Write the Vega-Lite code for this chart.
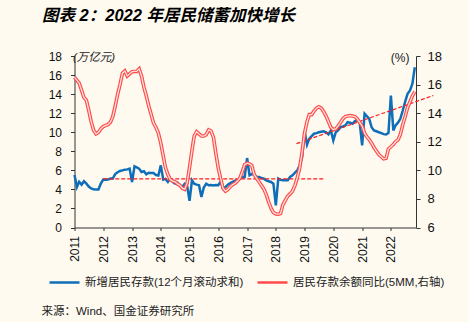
{
  "$schema": "https://vega.github.io/schema/vega-lite/v6.json",
  "width": 341.5,
  "height": 171.5,
  "autosize": {"type": "none"},
  "padding": {"left": 74.5, "top": 56, "right": 53, "bottom": 94.5},
  "background": "#fefaf0",
  "title": {
    "text": "图表 2：2022 年居民储蓄加快增长",
    "anchor": "start",
    "frame": "group",
    "dx": -32.5,
    "offset": 26,
    "font": "Liberation Sans, Noto Sans CJK SC",
    "fontSize": 16.5,
    "fontWeight": "bold",
    "fontStyle": "italic",
    "color": "#000000"
  },
  "config": {
    "view": {"stroke": null},
    "axis": {
      "grid": false,
      "domain": true,
      "ticks": true,
      "labels": true,
      "domainColor": "#333333",
      "domainWidth": 1,
      "tickColor": "#333333",
      "tickWidth": 1,
      "labelColor": "#111111",
      "labelFont": "Liberation Sans",
      "titleFont": "Liberation Sans, Noto Sans CJK SC",
      "titleColor": "#222222",
      "titleFontWeight": "normal"
    },
    "legend": {
      "labelFont": "Liberation Sans, Noto Sans CJK SC",
      "labelFontSize": 11.5,
      "labelColor": "#222222"
    }
  },
  "datasets": {
    "m": [
      {"d":"2011-01-01","b":5.5,"r":16.5},{"d":"2011-02-01","b":4.25,"r":16.3},{"d":"2011-03-01","b":4.8,"r":16.1},{"d":"2011-04-01","b":4.5,"r":15.6},{"d":"2011-05-01","b":4.85,"r":15.1},{"d":"2011-06-01","b":4.6,"r":14.9},{"d":"2011-07-01","b":4.3,"r":14.2},{"d":"2011-08-01","b":4.1,"r":13.4},{"d":"2011-09-01","b":4.0,"r":12.8},{"d":"2011-10-01","b":3.98,"r":12.55},{"d":"2011-11-01","b":3.98,"r":12.65},{"d":"2011-12-01","b":4.6,"r":12.9},
      {"d":"2012-01-01","b":5.03,"r":13.06},{"d":"2012-02-01","b":5.0,"r":13.15},{"d":"2012-03-01","b":5.03,"r":13.2},{"d":"2012-04-01","b":5.13,"r":13.37},{"d":"2012-05-01","b":5.13,"r":13.75},{"d":"2012-06-01","b":5.6,"r":14.5},{"d":"2012-07-01","b":5.8,"r":15.3},{"d":"2012-08-01","b":5.93,"r":16.0},{"d":"2012-09-01","b":6.0,"r":16.8},{"d":"2012-10-01","b":6.07,"r":16.95},{"d":"2012-11-01","b":6.1,"r":16.6},{"d":"2012-12-01","b":6.18,"r":16.75},
      {"d":"2013-01-01","b":4.78,"r":16.9},{"d":"2013-02-01","b":6.42,"r":16.92},{"d":"2013-03-01","b":6.3,"r":16.92},{"d":"2013-04-01","b":6.18,"r":17.1},{"d":"2013-05-01","b":5.82,"r":16.6},{"d":"2013-06-01","b":5.9,"r":15.8},{"d":"2013-07-01","b":5.58,"r":15.2},{"d":"2013-08-01","b":5.75,"r":14.5},{"d":"2013-09-01","b":5.72,"r":13.9},{"d":"2013-10-01","b":5.72,"r":13.3},{"d":"2013-11-01","b":5.5,"r":13.0},{"d":"2013-12-01","b":5.45,"r":12.6},
      {"d":"2014-01-01","b":6.52,"r":11.9},{"d":"2014-02-01","b":5.03,"r":11.0},{"d":"2014-03-01","b":5.1,"r":10.2},{"d":"2014-04-01","b":4.78,"r":9.7},{"d":"2014-05-01","b":5.13,"r":9.35},{"d":"2014-06-01","b":4.8,"r":9.25},{"d":"2014-07-01","b":4.6,"r":9.2},{"d":"2014-08-01","b":4.7,"r":9.05},{"d":"2014-09-01","b":4.43,"r":8.95},{"d":"2014-10-01","b":4.25,"r":8.75},{"d":"2014-11-01","b":4.6,"r":8.67},{"d":"2014-12-01","b":4.4,"r":9.1},
      {"d":"2015-01-01","b":2.79,"r":10.2},{"d":"2015-02-01","b":4.95,"r":11.4},{"d":"2015-03-01","b":4.6,"r":12.4},{"d":"2015-04-01","b":4.5,"r":12.7},{"d":"2015-05-01","b":4.43,"r":12.55},{"d":"2015-06-01","b":3.2,"r":12.4},{"d":"2015-07-01","b":4.2,"r":12.4},{"d":"2015-08-01","b":4.6,"r":12.5},{"d":"2015-09-01","b":4.43,"r":12.83},{"d":"2015-10-01","b":4.45,"r":12.75},{"d":"2015-11-01","b":4.4,"r":12.3},{"d":"2015-12-01","b":4.45,"r":11.2},
      {"d":"2016-01-01","b":4.43,"r":10.15},{"d":"2016-02-01","b":4.85,"r":9.4},{"d":"2016-03-01","b":4.08,"r":8.75},{"d":"2016-04-01","b":4.25,"r":8.55},{"d":"2016-05-01","b":4.5,"r":8.65},{"d":"2016-06-01","b":4.65,"r":8.85},{"d":"2016-07-01","b":4.78,"r":9.0},{"d":"2016-08-01","b":4.9,"r":9.1},{"d":"2016-09-01","b":4.95,"r":9.25},{"d":"2016-10-01","b":5.1,"r":9.45},{"d":"2016-11-01","b":5.3,"r":9.9},{"d":"2016-12-01","b":5.3,"r":10.4},
      {"d":"2017-01-01","b":7.29,"r":10.5},{"d":"2017-02-01","b":5.48,"r":10.45},{"d":"2017-03-01","b":5.6,"r":10.35},{"d":"2017-04-01","b":5.55,"r":9.7},{"d":"2017-05-01","b":5.3,"r":9.45},{"d":"2017-06-01","b":5.3,"r":9.2},{"d":"2017-07-01","b":5.2,"r":8.95},{"d":"2017-08-01","b":5.13,"r":8.7},{"d":"2017-09-01","b":4.95,"r":8.3},{"d":"2017-10-01","b":4.85,"r":7.8},{"d":"2017-11-01","b":4.78,"r":7.35},{"d":"2017-12-01","b":4.6,"r":7.05},
      {"d":"2018-01-01","b":2.33,"r":6.95},{"d":"2018-02-01","b":5.13,"r":6.93},{"d":"2018-03-01","b":5.0,"r":6.97},{"d":"2018-04-01","b":4.95,"r":7.6},{"d":"2018-05-01","b":4.95,"r":7.9},{"d":"2018-06-01","b":4.95,"r":8.2},{"d":"2018-07-01","b":5.3,"r":8.35},{"d":"2018-08-01","b":5.48,"r":8.55},{"d":"2018-09-01","b":5.75,"r":8.95},{"d":"2018-10-01","b":6.0,"r":9.5},{"d":"2018-11-01","b":6.52,"r":10.2},{"d":"2018-12-01","b":7.4,"r":11.3},
      {"d":"2019-01-01","b":10.1,"r":12.6},{"d":"2019-02-01","b":8.7,"r":13.4},{"d":"2019-03-01","b":9.3,"r":13.9},{"d":"2019-04-01","b":9.6,"r":13.9},{"d":"2019-05-01","b":9.84,"r":14.15},{"d":"2019-06-01","b":9.9,"r":14.35},{"d":"2019-07-01","b":10.0,"r":14.45},{"d":"2019-08-01","b":10.05,"r":14.35},{"d":"2019-09-01","b":10.1,"r":14.1},{"d":"2019-10-01","b":10.0,"r":13.8},{"d":"2019-11-01","b":9.77,"r":13.4},{"d":"2019-12-01","b":10.19,"r":13.0},
      {"d":"2020-01-01","b":9.14,"r":12.85},{"d":"2020-02-01","b":10.0,"r":12.9},{"d":"2020-03-01","b":10.19,"r":13.1},{"d":"2020-04-01","b":10.53,"r":13.35},{"d":"2020-05-01","b":10.6,"r":13.6},{"d":"2020-06-01","b":10.71,"r":13.76},{"d":"2020-07-01","b":11.06,"r":13.8},{"d":"2020-08-01","b":11.0,"r":13.83},{"d":"2020-09-01","b":10.89,"r":13.8},{"d":"2020-10-01","b":11.16,"r":13.76},{"d":"2020-11-01","b":11.24,"r":13.6},{"d":"2020-12-01","b":11.0,"r":13.35},
      {"d":"2021-01-01","b":8.62,"r":13.1},{"d":"2021-02-01","b":11.94,"r":12.6},{"d":"2021-03-01","b":11.7,"r":12.35},{"d":"2021-04-01","b":11.41,"r":12.15},{"d":"2021-05-01","b":10.53,"r":11.9},{"d":"2021-06-01","b":10.19,"r":11.6},{"d":"2021-07-01","b":10.1,"r":11.35},{"d":"2021-08-01","b":10.0,"r":11.1},{"d":"2021-09-01","b":9.9,"r":10.95},{"d":"2021-10-01","b":9.8,"r":10.8},{"d":"2021-11-01","b":9.77,"r":10.84},{"d":"2021-12-01","b":9.91,"r":11.5},
      {"d":"2022-01-01","b":13.85,"r":11.65},{"d":"2022-02-01","b":10.19,"r":11.8},{"d":"2022-03-01","b":10.71,"r":12.0},{"d":"2022-04-01","b":11.0,"r":12.13},{"d":"2022-05-01","b":11.41,"r":12.5},{"d":"2022-06-01","b":12.28,"r":13.2},{"d":"2022-07-01","b":13.2,"r":13.75},{"d":"2022-08-01","b":14.03,"r":14.4},{"d":"2022-09-01","b":14.38,"r":14.8},{"d":"2022-10-01","b":15.08,"r":15.2},{"d":"2022-11-01","b":16.82,"r":15.5}
    ],
    "dash": [
      {"d":"2012-01-01","v":5.1,"k":"flat"},
      {"d":"2019-09-01","v":5.1,"k":"flat"},
      {"d":"2018-09-20","v":8.8,"k":"trend"},
      {"d":"2023-06-24","v":13.85,"k":"trend"}
    ]
  },
  "layer": [
    {
      "data": {"name": "m"},
      "mark": {"type": "line", "strokeWidth": 2.5},
      "encoding": {
        "x": {
          "field": "d",
          "type": "temporal",
          "scale": {"domain": [{"year": 2011, "month": 1, "date": 1}, {"year": 2022, "month": 11, "date": 16}]},
          "axis": {
            "tickCount": {"interval": "year", "step": 1},
            "format": "%Y",
            "labelAngle": 270,
            "labelFontSize": 12,
            "tickSize": 3,
            "labelPadding": 5,
            "labelOverlap": false,
            "domain": true,
            "ticks": true,
            "title": "来源：Wind、国金证券研究所",
            "titleFontSize": 11.5,
            "titleAngle": 0,
            "titleAlign": "left",
            "titleBaseline": "middle",
            "titleX": -33.5,
            "titleY": 83.5
          }
        },
        "y": {
          "field": "b",
          "type": "quantitative",
          "scale": {"domain": [0, 18], "nice": false},
          "axis": {
            "orient": "left",
            "values": [0, 2, 4, 6, 8, 10, 12, 14, 16, 18],
            "domain": true,
            "ticks": true,
            "labels": true,
            "tickSize": 4,
            "labelPadding": 9,
            "labelFontSize": 12,
            "title": "(万亿元)",
            "titleAngle": 0,
            "titleAlign": "left",
            "titleBaseline": "middle",
            "titleX": -2,
            "titleY": 1,
            "titleFontSize": 11.5,
            "titleFontStyle": "italic"
          }
        },
        "color": {
          "datum": "新增居民存款(12个月滚动求和)",
          "scale": {
            "domain": ["新增居民存款(12个月滚动求和)", "居民存款余额同比(5MM,右轴)"],
            "range": ["#0e6eb8", "#ff4a4a"]
          },
          "legend": {
            "orient": "none",
            "direction": "horizontal",
            "legendX": -26.5,
            "legendY": 210,
            "title": null,
            "symbolType": "stroke",
            "symbolStrokeWidth": 2.5,
            "symbolSize": 900,
            "columnPadding": 8,
            "labelOffset": 4
          }
        }
      }
    },
    {
      "data": {"name": "dash"},
      "mark": {"type": "line", "strokeWidth": 1.2, "strokeDash": [4, 2], "color": "#ff1a1a", "clip": false},
      "encoding": {
        "x": {"field": "d", "type": "temporal"},
        "y": {"field": "v", "type": "quantitative", "scale": {"domain": [0, 18], "nice": false}, "axis": null},
        "detail": {"field": "k"}
      }
    },
    {
      "data": {"name": "m"},
      "mark": {"type": "line", "strokeWidth": 3.6},
      "encoding": {
        "x": {"field": "d", "type": "temporal"},
        "y": {
          "field": "r",
          "type": "quantitative",
          "scale": {"domain": [6, 18], "nice": false},
          "axis": {
            "orient": "right",
            "values": [6, 8, 10, 12, 14, 16, 18],
            "domain": true,
            "ticks": true,
            "labels": true,
            "tickSize": 4,
            "labelPadding": 7,
            "labelFontSize": 13,
            "title": "(%)",
            "titleAngle": 0,
            "titleAlign": "right",
            "titleBaseline": "middle",
            "titleX": -7,
            "titleY": 1,
            "titleFontSize": 12
          }
        },
        "color": {"datum": "居民存款余额同比(5MM,右轴)"}
      }
    },
    {
      "data": {"name": "m"},
      "mark": {"type": "line", "strokeWidth": 1.3, "color": "#ffe2dc"},
      "encoding": {
        "x": {"field": "d", "type": "temporal"},
        "y": {"field": "r", "type": "quantitative", "scale": {"domain": [6, 18], "nice": false}, "axis": null}
      }
    }
  ],
  "resolve": {"scale": {"y": "independent"}}
}
